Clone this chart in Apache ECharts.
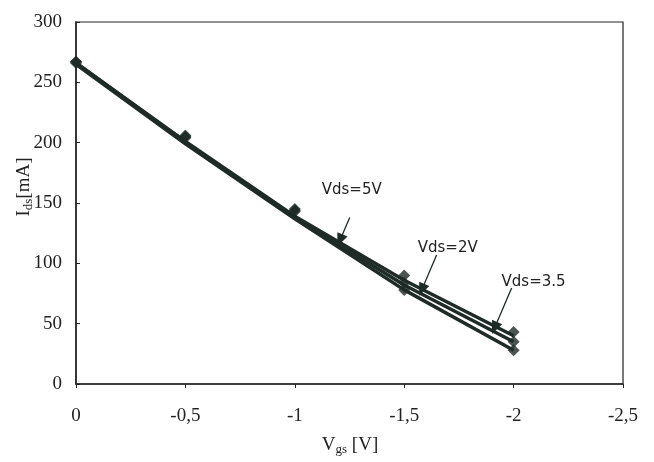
<!DOCTYPE html>
<html>
<head>
<meta charset="utf-8">
<script src="https://cdn.jsdelivr.net/npm/echarts@6/dist/echarts.min.js"></script>
<style>html,body{margin:0;padding:0;background:#fff}#c{width:654px;height:462px}</style>
</head>
<body>
<div id="c"></div>
<script>
var vgs = [0, -0.5, -1, -1.5, -2];
// fitted curves
var lineA = [266, 201, 139, 86, 40];
var lineB = [266, 200, 138, 82, 35];
var lineC = [265, 199, 137, 78, 28];
// measured points
var ptsA = [267, 206, 145, 90, 43];
var ptsB = [267, 205, 144, 84, 35];
var ptsC = [266, 204, 143, 78, 28];
var xTicks = ['0', '-0,5', '-1', '-1,5', '-2', '-2,5'];
var annLabels = ['Vds=5V', 'Vds=2V', 'Vds=3.5'];
var annText = [[-1.123, 160.7], [-1.562, 112.7], [-1.945, 84.5]];
var annArrowFrom = [[-1.251, 138], [-1.648, 107], [-1.991, 79.5]];
var annArrowTo = [[-1.206, 119], [-1.580, 78], [-1.913, 46.4]];

var ink = '#1e2b27';
function pairs(ys){ return vgs.map(function(x,i){ return [x, ys[i]]; }); }
function lineSeries(ys){
  return {type:'line', data:pairs(ys), showSymbol:false, symbol:'none', lineStyle:{color:ink,width:3.5}, z:2, silent:true, animation:false};
}
function ptSeries(ys){
  return {type:'scatter', data:pairs(ys), symbol:'diamond', symbolSize:12, itemStyle:{color:ink}, z:3, silent:true, animation:false};
}
var chart = echarts.init(document.getElementById('c'), null, {renderer:'canvas'});
var series = [lineSeries(lineA), lineSeries(lineB), lineSeries(lineC), ptSeries(ptsA), ptSeries(ptsB), ptSeries(ptsC)];
series.push({
  type:'line', data:[], silent:true, animation:false,
  markLine:{
    silent:true, animation:false,
    symbol:['none','triangle'], symbolSize:[11,13],
    lineStyle:{color:ink, width:1.3, type:'solid'},
    label:{show:false},
    data: annArrowFrom.map(function(f,i){ return [{coord:f}, {coord:annArrowTo[i]}]; })
  }
});
chart.setOption({
  backgroundColor:'#fff',
  animation:false,
  grid:{left:76, right:31, top:22, bottom:78, show:true, borderColor:'#222', borderWidth:1.2, backgroundColor:'transparent'},
  xAxis:{type:'value', min:-2.5, max:0, interval:0.5, inverse:true,
    axisLine:{show:true, onZero:false, lineStyle:{color:'#222', width:1.5}},
    axisTick:{show:true, inside:false, length:4, lineStyle:{color:'#222'}},
    splitLine:{show:false},
    axisLabel:{margin:23, color:'#222', fontFamily:'Liberation Serif', fontSize:19,
      formatter:function(v){ var idx = Math.round(-v/0.5); return xTicks[idx]; }}
  },
  yAxis:{type:'value', min:0, max:300, interval:50,
    axisLine:{show:true, lineStyle:{color:'#222', width:1.5}},
    axisTick:{show:true, inside:true, length:4, lineStyle:{color:'#222'}},
    splitLine:{show:false},
    axisLabel:{margin:14, color:'#222', fontFamily:'Liberation Serif', fontSize:19}
  },
  series: series
});
var g = [];
annLabels.forEach(function(t,i){
  var p = chart.convertToPixel({gridIndex:0}, annText[i]);
  g.push({type:'text', x:p[0], y:p[1], silent:true,
    style:{text:t, fill:'#222', font:'15px "DejaVu Sans", sans-serif', align:'left', verticalAlign:'middle'}});
});
g.push({type:'text', x:24, y:187, rotation:Math.PI/2, silent:true,
  style:{text:'{a|I}{b|ds}{a|[mA]}', align:'center', verticalAlign:'middle',
    rich:{a:{fontFamily:'Liberation Serif', fontSize:19, fill:'#222'}, b:{fontFamily:'Liberation Serif', fontSize:13, fill:'#222', padding:[9,0,0,0]}}}});
g.push({type:'text', x:350, y:445, silent:true,
  style:{text:'{a|V}{b|gs}{a| [V]}', align:'center', verticalAlign:'middle',
    rich:{a:{fontFamily:'Liberation Serif', fontSize:19, fill:'#222'}, b:{fontFamily:'Liberation Serif', fontSize:13, fill:'#222', padding:[9,0,0,0]}}}});
chart.setOption({graphic:g});
</script>
</body>
</html>
